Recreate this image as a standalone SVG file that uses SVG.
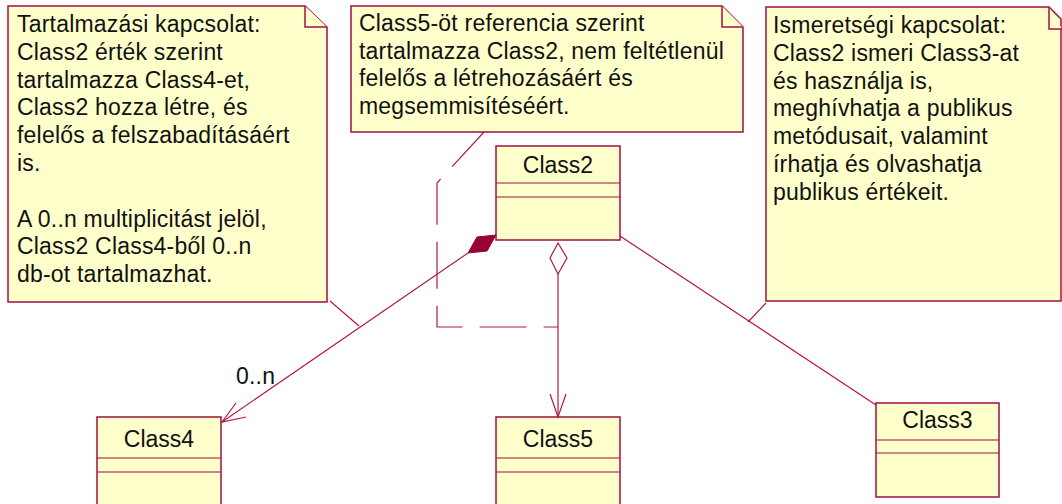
<svg xmlns="http://www.w3.org/2000/svg" width="1062" height="504" viewBox="0 0 1062 504">
  <style>
    .note { fill: #ffffcc; stroke: #a01040; stroke-width: 1.5; }
    .fold { fill: #ffffcc; stroke: #a01040; stroke-width: 1.5; }
    .box { fill: #ffffcc; stroke: #a01040; stroke-width: 1.5; }
    .sep { stroke: #a01040; stroke-width: 1.2; }
    .txt { font-family: "Liberation Sans", Arial, sans-serif; font-size: 23px; letter-spacing: 0.2px; fill: #111; }
    .name { font-family: "Liberation Sans", Arial, sans-serif; font-size: 23px; fill: #111; text-anchor: middle; }
    .edge { fill: none; stroke: #b01848; stroke-width: 1.2; }
    .anchor { fill: none; stroke: #b01848; stroke-width: 1.2; }
  </style>

  <!-- notes -->
  <g id="note-composition">
    <polygon class="note" points="8,6 305,6 327,27 327,302 8,302"/>
    <polyline class="fold" points="305,6 305,27 327,27"/>
    <text class="txt">
      <tspan x="17" y="32">Tartalmazási kapcsolat:</tspan>
      <tspan x="17" y="59.8">Class2 érték szerint</tspan>
      <tspan x="17" y="87.6">tartalmazza Class4-et,</tspan>
      <tspan x="17" y="115.4">Class2 hozza létre, és</tspan>
      <tspan x="17" y="143.2">felelős a felszabadításáért</tspan>
      <tspan x="17" y="171">is.</tspan>
      <tspan x="17" y="226.6">A 0..n multiplicitást jelöl,</tspan>
      <tspan x="17" y="254.4">Class2 Class4-ből 0..n</tspan>
      <tspan x="17" y="282.2">db-ot tartalmazhat.</tspan>
    </text>
  </g>

  <g id="note-aggregation">
    <polygon class="note" points="351,6 722,6 743,27 743,132 351,132"/>
    <polyline class="fold" points="722,6 722,27 743,27"/>
    <text class="txt">
      <tspan x="359" y="31">Class5-öt referencia szerint</tspan>
      <tspan x="359" y="58.7">tartalmazza Class2, nem feltétlenül</tspan>
      <tspan x="359" y="86.4">felelős a létrehozásáért és</tspan>
      <tspan x="359" y="114.1">megsemmisítéséért.</tspan>
    </text>
  </g>

  <g id="note-association">
    <polygon class="note" points="766,7 1049,7 1061,19 1061,301 766,301"/>
    <polyline class="fold" points="1049,7 1049,29 1062,29"/>
    <text class="txt">
      <tspan x="773" y="33">Ismeretségi kapcsolat:</tspan>
      <tspan x="773" y="60.8">Class2 ismeri Class3-at</tspan>
      <tspan x="773" y="88.6">és használja is,</tspan>
      <tspan x="773" y="116.4">meghívhatja a publikus</tspan>
      <tspan x="773" y="144.2">metódusait, valamint</tspan>
      <tspan x="773" y="172">írhatja és olvashatja</tspan>
      <tspan x="773" y="199.8">publikus értékeit.</tspan>
    </text>
  </g>

  <!-- classes -->
  <g id="Class2">
    <rect class="box" x="496" y="146" width="124" height="94"/>
    <line class="sep" x1="496" y1="183" x2="620" y2="183"/>
    <line class="sep" x1="496" y1="197" x2="620" y2="197"/>
    <text class="name" x="558" y="173">Class2</text>
  </g>

  <g id="Class4">
    <rect class="box" x="97" y="417" width="124" height="100"/>
    <line class="sep" x1="97" y1="458" x2="221" y2="458"/>
    <line class="sep" x1="97" y1="472" x2="221" y2="472"/>
    <text class="name" x="159" y="447">Class4</text>
  </g>

  <g id="Class5">
    <rect class="box" x="496" y="417" width="124" height="100"/>
    <line class="sep" x1="496" y1="458" x2="620" y2="458"/>
    <line class="sep" x1="496" y1="472" x2="620" y2="472"/>
    <text class="name" x="558" y="447">Class5</text>
  </g>

  <g id="Class3">
    <rect class="box" x="876" y="403" width="123" height="94"/>
    <line class="sep" x1="876" y1="440" x2="999" y2="440"/>
    <line class="sep" x1="876" y1="453" x2="999" y2="453"/>
    <text class="name" x="937.5" y="428">Class3</text>
  </g>

  <!-- connectors -->
  <g id="connectors">
    <!-- composition Class2 -> Class4 -->
    <line class="edge" x1="468" y1="253" x2="222" y2="422"/>
    <polygon points="496,235 477,237 468,253 487,251" fill="#990033" stroke="#990033" stroke-width="1"/>
    <polyline class="edge" points="236,403 222,422 246,417"/>
    <text class="txt" x="236" y="384" font-size="20">0..n</text>

    <!-- aggregation Class2 -> Class5 -->
    <polygon points="558,243 550,258 558,274 567,258" fill="#ffffff" stroke="#b01848" stroke-width="1.2"/>
    <line class="edge" x1="558" y1="274" x2="558" y2="417"/>
    <polyline class="edge" points="550,394 558,417 566,394"/>

    <!-- association Class2 - Class3 -->
    <line class="edge" x1="620" y1="236" x2="876" y2="405"/>

    <!-- note anchors -->
    <line class="anchor" x1="330" y1="301" x2="359" y2="326"/>
    <polyline class="anchor" points="484,132 437,183 437,327 558,327" stroke-dasharray="47 17"/>
    <line class="anchor" x1="766" y1="303" x2="748" y2="322"/>
  </g>
</svg>
